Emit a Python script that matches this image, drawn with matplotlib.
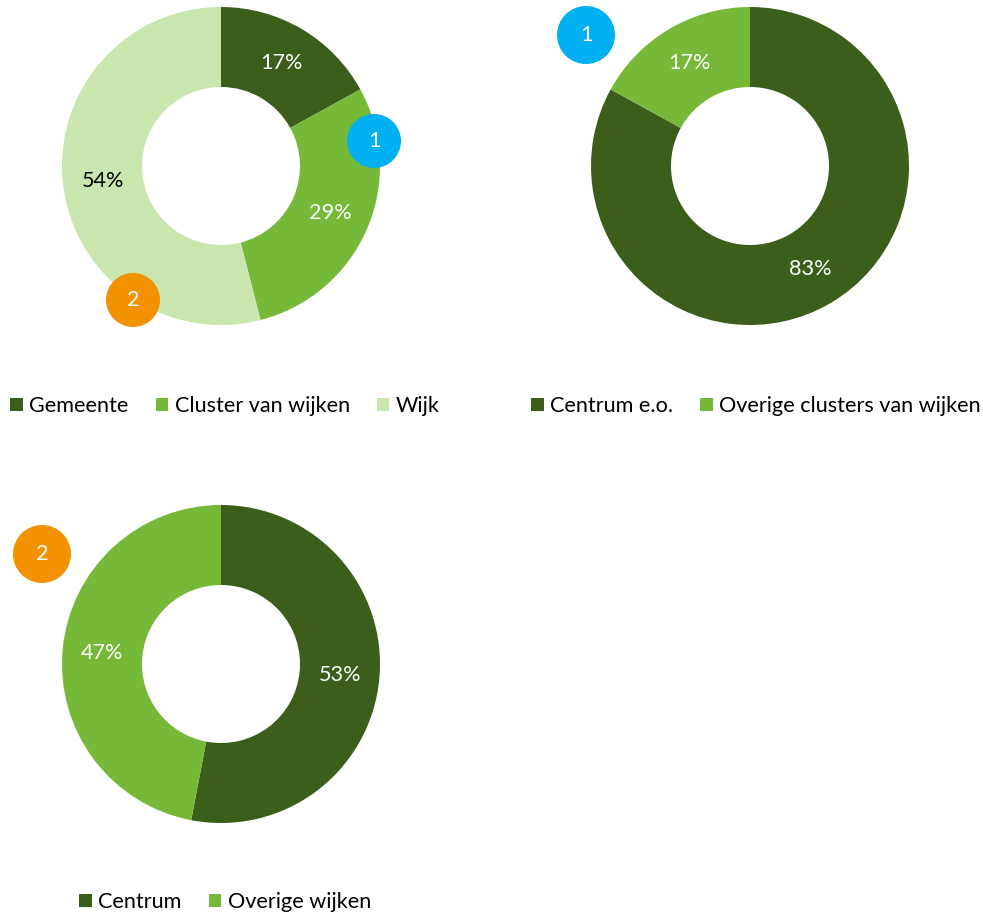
import matplotlib
matplotlib.use('Agg')
import matplotlib.pyplot as plt
from matplotlib.patches import Patch, Circle

plt.rcParams['font.family'] = ['Lato', 'DejaVu Sans']

# data
labels_1 = ['Gemeente', 'Cluster van wijken', 'Wijk']
values_1 = [17, 29, 54]
labels_2 = ['Centrum e.o.', 'Overige clusters van wijken']
values_2 = [83, 17]
labels_3 = ['Centrum', 'Overige wijken']
values_3 = [53, 47]

DARK = '#3B5E1B'
MID = '#76B837'
LIGHT = '#C8E6AD'
BLUE = '#00B0F0'
ORANGE = '#F39200'

W, H = 983, 915
FS = 15.6
fig = plt.figure(figsize=(W / 100, H / 100), dpi=100)
ax = fig.add_axes([0, 0, 1, 1])


def donut(values, colors, txtcolors, cx, cy):
    wedges, texts = ax.pie(values, colors=colors, startangle=90, counterclock=False,
                           center=(cx, H - cy), radius=159,
                           wedgeprops=dict(width=80, linewidth=0),
                           labels=[f'{v}%' for v in values], labeldistance=0.75,
                           textprops=dict(fontsize=FS))
    for t, c in zip(texts, txtcolors):
        t.set_color(c)
        t.set_horizontalalignment('center')
        t.set_verticalalignment('center')


def badge(txt, color, cx, cy, r):
    ax.add_patch(Circle((cx, H - cy), r, color=color, zorder=5, linewidth=0))
    ax.text(cx, H - cy, txt, color='white', fontsize=FS, ha='center', va='center', zorder=6)


donut(values_1, [DARK, MID, LIGHT], ['white', 'white', 'black'], 221, 166)
donut(values_2, [DARK, MID], ['white', 'white'], 750, 166)
donut(values_3, [DARK, MID], ['white', 'white'], 221, 664)

badge('1', BLUE, 374, 141, 27)
badge('2', ORANGE, 133, 300, 27)
badge('1', BLUE, 586, 35, 29)
badge('2', ORANGE, 42, 554, 29)

ax.set_xlim(0, W)
ax.set_ylim(0, H)
ax.set_aspect('auto')
ax.axis('off')


def legend(labels, colors, x, y):
    handles = [Patch(facecolor=c, edgecolor='none', label=l) for l, c in zip(labels, colors)]
    fig.legend(handles=handles, loc='center left', bbox_to_anchor=(x / W, 1 - y / H),
               ncol=len(labels), frameon=False, fontsize=FS, handlelength=0.58,
               handleheight=0.58, handletextpad=0.3, columnspacing=1.25, borderpad=0,
               borderaxespad=0)


legend(labels_1, [DARK, MID, LIGHT], 10, 406)
legend(labels_2, [DARK, MID], 531, 406)
legend(labels_3, [DARK, MID], 79, 902)

fig.savefig('out.png', dpi=100)
